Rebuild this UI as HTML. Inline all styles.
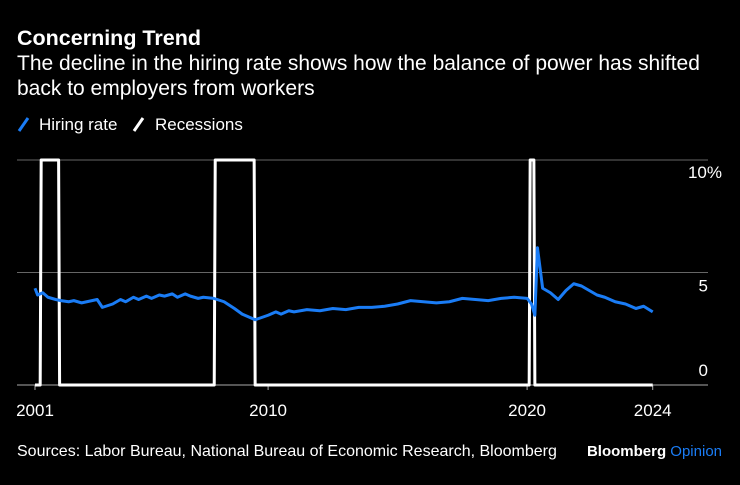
<!DOCTYPE html>
<html><head><meta charset="utf-8"><style>
body{margin:0;background:#000;width:740px;height:485px;overflow:hidden;font-family:"Liberation Sans",sans-serif;color:#fff}
svg{position:absolute;left:0;top:0}
</style></head><body>
<svg width="740" height="485">
<text x="17" y="45" font-size="21.5" font-weight="bold" fill="#fff">Concerning Trend</text>
<text x="17" y="70" font-size="21" fill="#fff">The decline in the hiring rate shows how the balance of power has shifted</text>
<text x="17" y="95" font-size="21" fill="#fff">back to employers from workers</text>
<g>
<line x1="19" y1="131" x2="28" y2="118" stroke="#1a7cf5" stroke-width="3"/>
<text x="39" y="130" font-size="17" fill="#fff">Hiring rate</text>
<line x1="134" y1="131" x2="143" y2="118" stroke="#fff" stroke-width="3"/>
<text x="155" y="130" font-size="17" fill="#fff">Recessions</text>
</g>
<g id="grid"></g>
<g id="marks"></g>
<text x="17" y="456" font-size="16" fill="#fff">Sources: Labor Bureau, National Bureau of Economic Research, Bloomberg</text>
<text x="722" y="456" font-size="15" text-anchor="end" font-weight="bold" fill="#fff">Bloomberg <tspan fill="#1a7cf5" font-weight="normal">Opinion</tspan></text>
</svg>
<script>
const yTicks=[0,5,10];
const yTickLabels=["0","5","10%"];
const xTicks=[2001,2010,2020,2024.85];
const xTickLabels=["2001","2010","2020","2024"];
const recStart=[2001.2,2007.92,2020.08];
const recEnd=[2001.95,2009.5,2020.3];
const hireX=[2001.0,2001.1,2001.3,2001.5,2001.8,2002.0,2002.3,2002.5,2002.8,2003.0,2003.4,2003.6,2004.0,2004.3,2004.5,2004.8,2005.0,2005.3,2005.5,2005.8,2006.0,2006.3,2006.5,2006.8,2007.0,2007.3,2007.5,2007.9,2008.3,2008.7,2009.0,2009.5,2010.0,2010.3,2010.5,2010.8,2011.0,2011.5,2012.0,2012.5,2013.0,2013.5,2014.0,2014.5,2015.0,2015.5,2016.0,2016.5,2017.0,2017.5,2018.0,2018.5,2019.0,2019.5,2020.0,2020.17,2020.3,2020.4,2020.6,2020.9,2021.2,2021.5,2021.8,2022.1,2022.4,2022.7,2023.0,2023.4,2023.8,2024.2,2024.5,2024.85];
const hireY=[4.3,4.0,4.1,3.9,3.8,3.75,3.7,3.75,3.65,3.7,3.8,3.45,3.6,3.8,3.7,3.9,3.8,3.95,3.85,4.0,3.95,4.05,3.9,4.05,3.95,3.85,3.9,3.85,3.7,3.4,3.15,2.9,3.1,3.25,3.15,3.3,3.25,3.35,3.3,3.4,3.35,3.45,3.45,3.5,3.6,3.75,3.7,3.65,3.7,3.85,3.8,3.75,3.85,3.9,3.85,3.6,3.1,6.1,4.3,4.1,3.8,4.2,4.5,4.4,4.2,4.0,3.9,3.7,3.6,3.4,3.5,3.25];
const X=y=>35+(y-2001)*25.9;
const Y=v=>385-v*22.5;
const ns="http://www.w3.org/2000/svg";
const grid=document.getElementById('grid'),marks=document.getElementById('marks');
const labelDy={0:-9,5:19,10:18};
yTicks.forEach((t,i)=>{
 const l=document.createElementNS(ns,'line');
 l.setAttribute('x1',17);l.setAttribute('x2',708);l.setAttribute('y1',Y(t));l.setAttribute('y2',Y(t));
 l.setAttribute('stroke',t===0?'#aaa':'#666');l.setAttribute('stroke-width',1);
 
 
 grid.appendChild(l);
 const tx=document.createElementNS(ns,'text');
 tx.setAttribute('x',t===10?722:708);tx.setAttribute('y',Y(t)+labelDy[t]);tx.setAttribute('text-anchor','end');
 tx.setAttribute('font-size',17);tx.setAttribute('fill','#fff');tx.textContent=yTickLabels[i];
 
 
 grid.appendChild(tx);
});
xTicks.forEach((t,i)=>{
 const l=document.createElementNS(ns,'line');
 l.setAttribute('x1',X(t));l.setAttribute('x2',X(t));l.setAttribute('y1',385);l.setAttribute('y2',390);
 l.setAttribute('stroke','#aaa');
 
 
 grid.appendChild(l);
 const tx=document.createElementNS(ns,'text');
 tx.setAttribute('x',X(t));tx.setAttribute('y',416);tx.setAttribute('text-anchor','middle');
 tx.setAttribute('font-size',17);tx.setAttribute('fill','#fff');tx.textContent=xTickLabels[i];
 
 
 grid.appendChild(tx);
});
let pts=[[X(2001),Y(0)]];
recStart.forEach((s,i)=>{pts.push([X(s),Y(0)],[X(s)+1,Y(10)],[X(recEnd[i])-1,Y(10)],[X(recEnd[i]),Y(0)]);});
pts.push([X(2024.85),Y(0)]);
const rp=document.createElementNS(ns,'polyline');
rp.setAttribute('points',pts.map(p=>p.join(',')).join(' '));
rp.setAttribute('fill','none');rp.setAttribute('stroke','#fff');rp.setAttribute('stroke-width',3);rp.setAttribute('stroke-linejoin','round');


marks.appendChild(rp);
const hp=document.createElementNS(ns,'polyline');
hp.setAttribute('points',hireX.map((x,i)=>X(x)+','+Y(hireY[i])).join(' '));
hp.setAttribute('fill','none');hp.setAttribute('stroke','#1a7cf5');hp.setAttribute('stroke-width',3);hp.setAttribute('stroke-linejoin','round');


marks.appendChild(hp);
</script>
</body></html>
